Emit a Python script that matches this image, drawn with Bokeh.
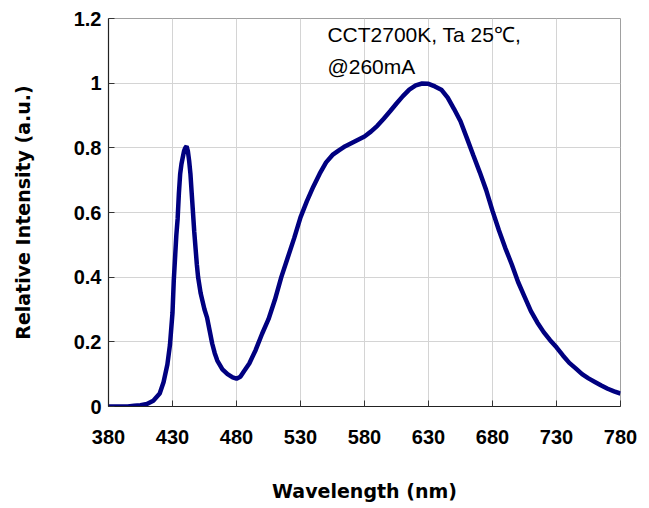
from bokeh.plotting import figure
from bokeh.models import Range1d, FixedTicker, Label
from bokeh.embed import file_html
from bokeh.resources import INLINE

wavelength = [380, 385, 390, 395, 400, 405, 410, 415, 420, 423, 426, 428, 430, 431, 432, 433, 434, 435,
              436, 437, 438, 439, 440, 441, 442, 443, 444, 445, 446, 447, 448, 449, 450, 452, 455, 457,
              459, 461, 463, 465, 469, 473, 477, 480, 483, 486, 490, 495, 500, 505, 510, 515, 520, 525,
              530, 535, 540, 545, 550, 555, 560, 565, 570, 575, 580, 585, 590, 595, 600, 605, 610, 615,
              620, 625, 630, 635, 640, 645, 650, 655, 660, 665, 670, 675, 680, 685, 690, 695, 700, 705,
              710, 715, 720, 725, 730, 735, 740, 745, 750, 755, 760, 765, 770, 775, 780]
intensity = [0.0, 0.0, 0.0, 0.0, 0.002, 0.004, 0.008, 0.018, 0.04, 0.075, 0.13, 0.19, 0.29, 0.39, 0.46,
             0.53, 0.58, 0.66, 0.72, 0.75, 0.77, 0.79, 0.80, 0.805, 0.79, 0.76, 0.72, 0.66, 0.60, 0.54,
             0.49, 0.44, 0.40, 0.35, 0.30, 0.275, 0.235, 0.195, 0.165, 0.142, 0.115, 0.10, 0.09, 0.086,
             0.092, 0.11, 0.133, 0.175, 0.225, 0.27, 0.33, 0.40, 0.46, 0.52, 0.585, 0.635, 0.68, 0.72,
             0.755, 0.778, 0.792, 0.805, 0.815, 0.825, 0.835, 0.85, 0.868, 0.89, 0.913, 0.937, 0.96,
             0.98, 0.993, 0.999, 0.998, 0.99, 0.98, 0.955, 0.92, 0.882, 0.83, 0.777, 0.725, 0.67, 0.605,
             0.545, 0.49, 0.44, 0.385, 0.34, 0.295, 0.26, 0.23, 0.205, 0.183, 0.158, 0.135, 0.118, 0.10,
             0.087, 0.076, 0.065, 0.055, 0.047, 0.04]

x_ticks = [380, 430, 480, 530, 580, 630, 680, 730, 780]
y_ticks = [0, 0.2, 0.4, 0.6, 0.8, 1.0, 1.2]
y_tick_labels = ["0", "0.2", "0.4", "0.6", "0.8", "1", "1.2"]

p = figure(frame_width=512, frame_height=388, output_backend="svg", toolbar_location=None,
           x_range=Range1d(380, 780), y_range=Range1d(0, 1.2))
p.min_border_left = 108
p.min_border_right = 21
p.min_border_top = 18
p.min_border_bottom = 60
p.background_fill_color = "white"
p.border_fill_color = "white"
p.outline_line_color = "#a0a0a0"
p.outline_line_width = 1

p.line(wavelength, intensity, line_color="#000080", line_width=4.5)

p.xaxis.ticker = FixedTicker(ticks=x_ticks)
p.yaxis.ticker = FixedTicker(ticks=y_ticks)
p.yaxis.major_label_overrides = {v: s for v, s in zip(y_ticks, y_tick_labels)}
p.xaxis.minor_tick_line_color = None
p.yaxis.minor_tick_line_color = None

for ax in (p.xaxis[0], p.yaxis[0]):
    ax.axis_line_color = "#222222"
    ax.axis_line_width = 1.2
    ax.major_tick_in = 6
    ax.major_tick_out = 0
    ax.major_tick_line_color = "#333333"
    ax.major_label_text_font = "Liberation Sans"
    ax.major_label_text_font_style = "bold"
    ax.major_label_text_font_size = "20px"
    ax.major_label_text_color = "black"
    ax.axis_label_text_font = "DejaVu Sans"
    ax.axis_label_text_font_style = "bold"
    ax.axis_label_text_font_size = "19px"
    ax.axis_label_text_color = "black"

p.xaxis.axis_label = "Wavelength (nm)"
p.xaxis.major_label_standoff = 23
p.xaxis.axis_label_standoff = 33
p.yaxis.axis_label = "Relative Intensity (a.u.)"
p.yaxis.major_label_standoff = 7
p.yaxis.axis_label_standoff = 37

p.xgrid.grid_line_color = "#d4d4d4"
p.ygrid.grid_line_color = "#d4d4d4"
p.xgrid.grid_line_width = 1
p.ygrid.grid_line_width = 1

p.add_layout(Label(x=551, y=1.186, text="CCT2700K, Ta 25\u2103,", text_baseline="top",
                   text_font="Liberation Sans", text_font_size="21px", text_color="black"))
p.add_layout(Label(x=551, y=1.086, text="@260mA", text_baseline="top",
                   text_font="Liberation Sans", text_font_size="21px", text_color="black"))

open("out.html", "w").write(file_html(p, INLINE))
